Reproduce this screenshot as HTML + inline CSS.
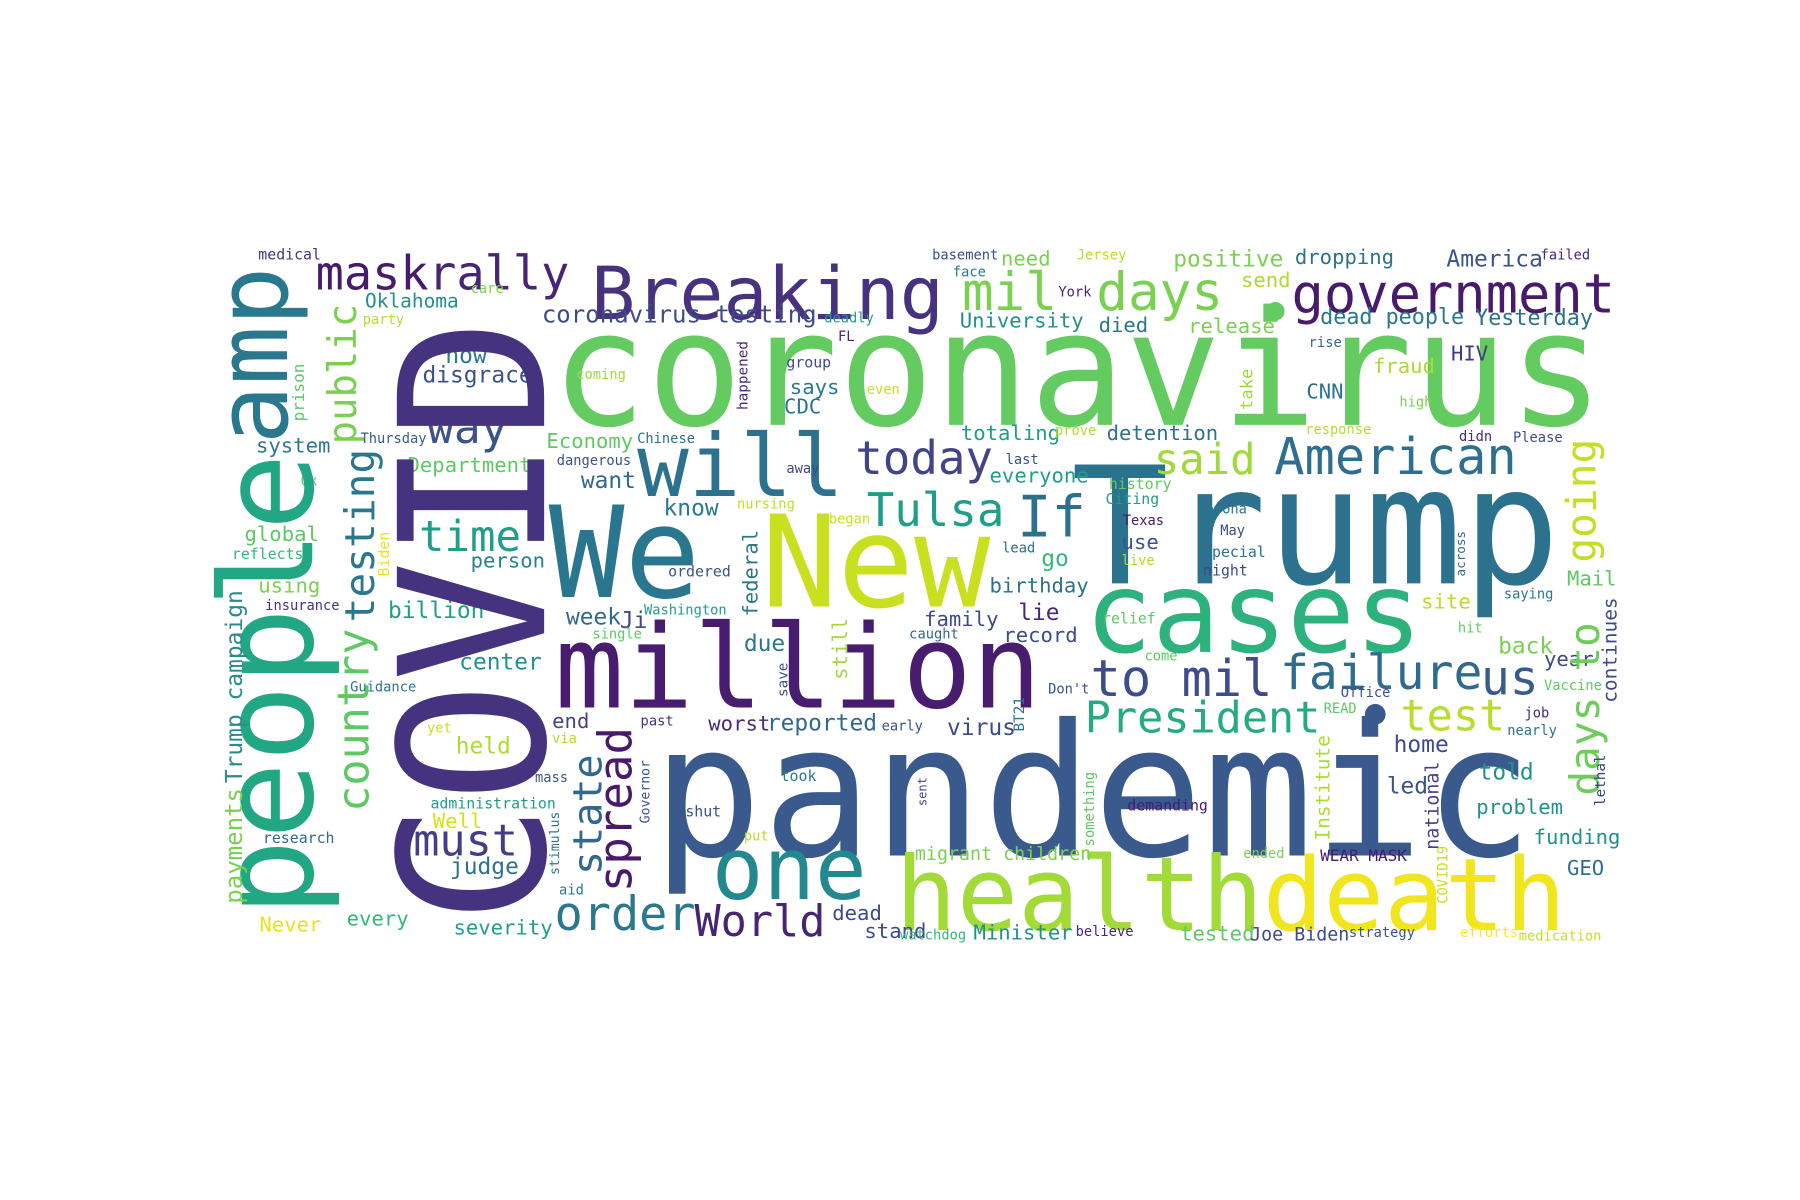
<!DOCTYPE html>
<html><head><meta charset="utf-8"><style>
html,body{margin:0;padding:0;background:#fff;width:1800px;height:1200px;overflow:hidden}
svg text{font-family:"DejaVu Sans Mono","Liberation Mono",monospace}
</style></head><body>
<svg id="cloud" width="1800" height="1200" viewBox="0 0 1568 1045" preserveAspectRatio="none" xmlns="http://www.w3.org/2000/svg">
<rect width="1568" height="1045" fill="#fff"/>
<circle cx="1198" cy="622" r="9" fill="#3a5a8f"/>
<circle cx="1111" cy="271" r="8" fill="#63cb5f"/>
</svg>
<script>
// horizontal words: [text, x, baselineY, size, color]
const hWords = [
["coronavirus",480,370,139,"#63cb5f"],["Trump",933,508,142,"#2c718e"],["pandemic",568,745,160,"#3a5a8e"],
["New",663,528,111,"#c8e020"],["million",483,616,101,"#481c6e"],["We",478,520,110,"#2a768e"],
["health",780,810,89,"#a2da37"],["death",1100,810,88,"#f1e51d"],["cases",945,568,98,"#2db27d"],
["Breaking",515,278,64,"#46327e"],["will",555,432,75,"#2c718e"],["one",620,783,75,"#23898e"],
["government",1125,272,47,"#481a6c"],["American",1110,413,44,"#2e6e8e"],["President",945,638,38,"#25ab82"],
["to mil",950,606,44,"#3e4c8a"],["failure",1115,600,42,"#2f6b8e"],["us",1290,605,42,"#375b8d"],
["test",1220,636,38,"#b5de2b"],["days",955,270,46,"#7ad151"],["mil",838,270,46,"#7ad151"],
["mask",275,252,41,"#481a6c"],["rally",373,252,41,"#482475"],["today",745,413,40,"#414487"],
["Tulsa",755,458,40,"#1f9e89"],["If",886,467,50,"#2d708e"],["said",1005,413,37,"#a0da39"],
["order",483,810,41,"#2a788e"],["World",605,815,38,"#482475"],["must",360,745,38,"#433e85"],
["time",365,480,37,"#1f9e89"],["way",372,386,39,"#3b528b"],
["medical",225,226,13,"#46337e"],["Oklahoma",318,268,17,"#21918c"],["care",410,255,12,"#7ad151"],
["party",316,282,12,"#b5de2b"],["now",388,316,20,"#2a788e"],["disgrace",368,333,20,"#3b528b"],
["coming",502,330,12,"#a0da39"],["coronavirus testing",472,281,21,"#3e4a89"],["deadly",718,281,12,"#1f9e89"],
["FL",730,297,12,"#482878"],["group",685,320,13,"#3e4a89"],["says",688,343,18,"#2a788e"],
["even",755,343,12,"#c8e020"],["CDC",683,360,18,"#2c728e"],["system",223,394,18,"#2a788e"],
["Thursday",314,386,12,"#355f8d"],["Economy",476,390,18,"#5ec962"],["Chinese",555,386,12,"#2c728e"],
["Department",355,411,18,"#5ec962"],["dangerous",485,405,12,"#3b528b"],["want",506,425,20,"#31688e"],
["away",685,412,12,"#3e4a89"],["Ok",262,423,12,"#5ec962"],["know",578,449,20,"#2a788e"],
["nursing",642,443,12,"#c0df25"],["began",722,456,12,"#c8e020"],["global",213,471,18,"#5ec962"],
["reflects",202,487,13,"#35b779"],["person",410,494,18,"#26828e"],["ordered",582,502,13,"#3b528b"],
["using",225,516,18,"#7ad151"],["insurance",231,531,12,"#46337e"],["billion",338,538,20,"#1f9e89"],
["week",493,544,20,"#31688e"],["Ji",540,547,20,"#3e4a89"],["Washington",561,535,12,"#1f9e89"],
["single",516,556,12,"#5ec962"],["center",400,583,20,"#21918c"],["due",648,567,20,"#2a788e"],
["Guidance",305,602,12,"#2a788e"],["end",481,634,18,"#414487"],["past",558,632,12,"#46337e"],
["worst",617,636,18,"#482878"],["reported",668,636,20,"#31688e"],["early",768,636,12,"#3b528b"],
["virus",825,640,20,"#3e4a89"],["yet",372,638,12,"#c8e020"],["held",397,656,20,"#addc30"],
["via",481,647,12,"#b5de2b"],["mass",466,681,12,"#3b528b"],["took",680,680,13,"#2a788e"],
["administration",375,704,13,"#1f9e89"],["Well",377,721,18,"#d8e219"],["shut",597,711,13,"#3b528b"],
["research",229,734,13,"#31688e"],["put",648,732,12,"#b5de2b"],["judge",392,761,20,"#2c728e"],
["aid",487,779,12,"#2a788e"],["Never",226,811,18,"#e8e419"],["every",302,806,18,"#35b779"],
["severity",395,814,18,"#1f9e89"],["dead",725,801,18,"#3e4a89"],["stand",753,817,18,"#3e4a89"],
["watchdog",784,818,12,"#35b779"],["Minister",848,818,18,"#21918c"],["believe",937,815,12,"#482878"],
["tested",1028,819,18,"#5ec962"],["Joe Biden",1089,819,16,"#3e4a89"],["strategy",1175,816,12,"#3b528b"],
["efforts",1272,816,12,"#fde725"],["medication",1323,819,12,"#c8e020"],["migrant children",797,749,16,"#7ad151"],
["demanding",982,706,13,"#481a6c"],["ended",1083,747,12,"#7ad151"],["WEAR MASK",1150,750,14,"#481a6c"],
["GEO",1365,762,18,"#2d708e"],["funding",1336,735,18,"#21918c"],["problem",1286,709,18,"#21918c"],
["told",1288,679,20,"#21918c"],["led",1208,691,20,"#3b528b"],["home",1214,655,20,"#3e4a89"],
["nearly",1313,640,12,"#2c728e"],["job",1328,625,12,"#482878"],["READ",1153,621,12,"#5ec962"],
["Office",1168,607,12,"#3b528b"],["Vaccine",1345,601,12,"#5ec962"],["year",1345,580,18,"#3e4a89"],
["back",1305,569,20,"#7ad151"],["hit",1270,551,12,"#5ec962"],["saying",1310,521,12,"#2a788e"],
["Mail",1365,510,18,"#5ec962"],["site",1238,530,18,"#b5de2b"],["Don't",913,604,12,"#3b528b"],
["come",997,575,12,"#5ec962"],["relief",960,543,13,"#5ec962"],["caught",792,556,12,"#31688e"],
["family",805,545,18,"#3e4a89"],["record",874,559,18,"#3e4a89"],["lie",887,540,20,"#482878"],
["birthday",862,516,18,"#2c728e"],["go",907,493,20,"#35b779"],["lead",873,481,12,"#2c728e"],
["use",977,478,18,"#3b528b"],["live",977,492,12,"#addc30"],["Texas",978,457,12,"#481a6c"],
["Corona",1043,447,12,"#2c728e"],["May",1063,466,12,"#3e4a89"],["special",1048,485,13,"#2c728e"],
["night",1048,501,13,"#3e4a89"],["Citing",963,439,13,"#1f9e89"],["history",966,426,13,"#5ec962"],
["everyone",862,420,18,"#1f9e89"],["totaling",837,383,18,"#1f9e89"],["prove",919,379,12,"#addc30"],
["detention",964,383,18,"#2c728e"],["last",876,404,12,"#3b528b"],["response",1137,378,12,"#b5de2b"],
["didn",1271,384,12,"#482878"],["Please",1318,385,12,"#3e4a89"],["high",1219,354,12,"#7ad151"],
["CNN",1138,347,18,"#2c728e"],["fraud",1196,325,18,"#addc30"],["HIV",1264,314,18,"#443983"],
["rise",1140,302,12,"#31688e"],["died",957,289,18,"#2a788e"],["release",1035,290,18,"#7ad151"],
["University",836,285,18,"#21918c"],["York",922,258,12,"#482878"],["face",830,241,12,"#2a788e"],
["basement",812,226,12,"#3e4a89"],["need",872,231,18,"#7ad151"],["Jersey",938,226,12,"#b5de2b"],
["positive",1022,232,20,"#7ad151"],["dropping",1128,230,18,"#2c728e"],["send",1081,250,18,"#addc30"],
["dead people",1150,282,19,"#2a788e"],["Yesterday",1285,283,19,"#2c728e"],["America",1260,232,20,"#3b528b"],
["failed",1342,226,12,"#482878"]
];
// vertical words (reading upward): [text, baselineX, startY, size, color]
const vWords = [
["COVID",474,805,176,"#46337f"],["people",272,798,112,"#22a785"],["amp",250,387,86,"#2a788e"],
["spread",550,777,40,"#481a6c"],["state",524,762,35,"#31688e"],["public",310,387,34,"#7ad151"],
["testing",326,542,36,"#2a788e"],["country",321,707,38,"#5ec962"],["Trump campaign",211,682,20,"#2a8a8e"],
["payments",211,787,21,"#7ad151"],["prison",265,367,14,"#5ec962"],["going",1390,490,36,"#c0df25"],
["days to",1393,693,36,"#6ccd5a"],["continues",1408,612,17,"#3e4a89"],["Institute",1158,732,17,"#addc30"],
["national",1253,740,16,"#433e85"],["federal",660,537,18,"#2a788e"],["still",738,592,18,"#a0da39"],
["something",953,737,12,"#5ec962"],["Governor",566,717,11.5,"#3b528b"],["stimulus",487,762,11.5,"#2a788e"],
["COVID19",1261,787,12,"#c8e020"],["lethal",1398,702,12.5,"#414487"],["across",1276,502,11,"#31688e"],
["Biden",339,502,13,"#e8e419"],["take",1091,357,15,"#a0da39"],["happened",651,357,12.5,"#482878"],
["save",686,607,12.5,"#3b528b"],["BT21",892,637,12.5,"#2c728e"],["sent",807,702,10.5,"#414487"]
];
const NS = "http://www.w3.org/2000/svg";
const svg = document.getElementById("cloud");
function slug(t){return t.toLowerCase().replace(/[^a-z0-9]+/g,"-").replace(/^-|-$/g,"");}
hWords.forEach(w => {
  const t = document.createElementNS(NS, "text");
  t.setAttribute("x", w[1]); t.setAttribute("y", w[2]);
  t.setAttribute("font-size", w[3]); t.setAttribute("fill", w[4]);
  t.setAttribute("textLength", (w[0].length * 0.6 * w[3]).toFixed(1));
  t.setAttribute("lengthAdjust", "spacingAndGlyphs");
  t.textContent = w[0];
  
  
  svg.appendChild(t);
});
vWords.forEach(w => {
  const t = document.createElementNS(NS, "text");
  t.setAttribute("x", 0); t.setAttribute("y", 0);
  t.setAttribute("transform", "translate(" + w[1] + "," + w[2] + ") rotate(-90)");
  t.setAttribute("font-size", w[3]); t.setAttribute("fill", w[4]);
  t.setAttribute("textLength", (w[0].length * 0.6 * w[3]).toFixed(1));
  t.setAttribute("lengthAdjust", "spacingAndGlyphs");
  t.textContent = w[0];
  
  
  svg.appendChild(t);
});
</script>
</body></html>
